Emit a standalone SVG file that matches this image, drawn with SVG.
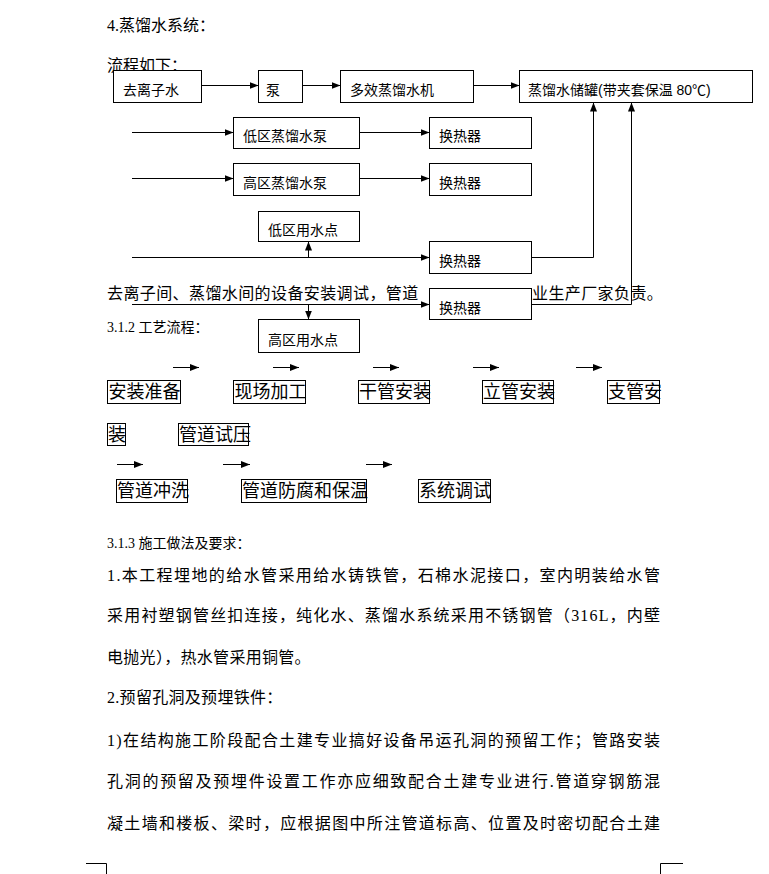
<svg xmlns="http://www.w3.org/2000/svg" width="769" height="874" viewBox="0 0 769 874">
<style>
.body{font-family:'Liberation Serif','Noto Sans CJK SC',serif;font-size:16px;fill:#000}
.sub{font-family:'Liberation Serif','Noto Sans CJK SC',serif;font-size:14px;fill:#000}
.lbl{font-family:'Liberation Sans','Noto Sans CJK SC',sans-serif;font-size:14px;fill:#000}
.pl{font-family:'Liberation Serif','Noto Sans CJK SC',serif;font-size:18px;fill:#000}
.box{fill:#fff;stroke:#000;stroke-width:1}
.pbox{fill:none;stroke:#000;stroke-width:1}
.con{fill:none;stroke:#000;stroke-width:1;marker-end:url(#ah)}
.line{fill:none;stroke:#000;stroke-width:1}
</style>
<defs>
<marker id="ah" markerUnits="userSpaceOnUse" markerWidth="9" markerHeight="7" refX="9" refY="3.5" orient="auto">
<path d="M0,0 L9,3.5 L0,7 z" fill="#000"/>
</marker>
</defs>
<rect width="769" height="874" fill="#fff"/>

<text class="body" x="107" y="31">4.蒸馏水系统：</text>
<text class="body" x="107" y="71">流程如下：</text>
<text class="body" x="107" y="299" letter-spacing="0.4">去离子间、蒸馏水间的设备安装调试，管道</text>
<text class="body" x="532" y="299" letter-spacing="0.4">业生产厂家负责。</text>

<g id="connectors">
<line class="con" x1="201.5" y1="85.5" x2="258.5" y2="85.5"/>
<line class="con" x1="302.5" y1="85.5" x2="340.5" y2="85.5"/>
<line class="con" x1="473.5" y1="85.5" x2="519.5" y2="85.5"/>
<line class="con" x1="132" y1="132.5" x2="233.5" y2="132.5"/>
<line class="con" x1="359.5" y1="132.5" x2="429.5" y2="132.5"/>
<line class="con" x1="132" y1="178.5" x2="233.5" y2="178.5"/>
<line class="con" x1="359.5" y1="178.5" x2="429.5" y2="178.5"/>
<line class="con" x1="132" y1="257.5" x2="429.5" y2="257.5"/>
<line class="con" x1="308.5" y1="257.5" x2="308.5" y2="241.5"/>
<line class="con" x1="132" y1="304.5" x2="429.5" y2="304.5"/>
<line class="con" x1="308.5" y1="304.5" x2="308.5" y2="319.5"/>
<polyline class="con" points="531.5,257.5 593.5,257.5 593.5,102.5"/>
<polyline class="con" points="531.5,304.5 631.5,304.5 631.5,102.5"/>
<line class="con" x1="173" y1="367.5" x2="199" y2="367.5"/>
<line class="con" x1="273" y1="367.5" x2="299" y2="367.5"/>
<line class="con" x1="373" y1="367.5" x2="399" y2="367.5"/>
<line class="con" x1="473" y1="367.5" x2="499" y2="367.5"/>
<line class="con" x1="576" y1="367.5" x2="602" y2="367.5"/>
<line class="con" x1="117" y1="464.5" x2="143" y2="464.5"/>
<line class="con" x1="223" y1="464.5" x2="250" y2="464.5"/>
<line class="con" x1="366" y1="464.5" x2="392" y2="464.5"/>
</g>

<g id="n-deion"><rect class="box" x="113.5" y="70.5" width="88" height="32"/><text class="lbl" x="123" y="95">去离子水</text></g>
<g id="n-pump"><rect class="box" x="258.5" y="70.5" width="44" height="32"/><text class="lbl" x="266" y="95">泵</text></g>
<g id="n-still"><rect class="box" x="340.5" y="70.5" width="133" height="32"/><text class="lbl" x="350" y="95">多效蒸馏水机</text></g>
<g id="n-tank"><rect class="box" x="519.5" y="70.5" width="233" height="32"/><text class="lbl" x="528" y="95">蒸馏水储罐(带夹套保温 80℃)</text></g>
<g id="n-lowpump"><rect class="box" x="233.5" y="117.5" width="126" height="31"/><text class="lbl" x="243" y="141">低区蒸馏水泵</text></g>
<g id="n-hx1"><rect class="box" x="429.5" y="117.5" width="102" height="31"/><text class="lbl" x="439" y="141">换热器</text></g>
<g id="n-highpump"><rect class="box" x="233.5" y="163.5" width="126" height="32"/><text class="lbl" x="243" y="188">高区蒸馏水泵</text></g>
<g id="n-hx2"><rect class="box" x="429.5" y="163.5" width="102" height="32"/><text class="lbl" x="439" y="188">换热器</text></g>
<g id="n-lowuse"><rect class="box" x="258.5" y="211.5" width="101" height="30"/><text class="lbl" x="268" y="235">低区用水点</text></g>
<g id="n-hx3"><rect class="box" x="429.5" y="241.5" width="102" height="32"/><text class="lbl" x="439" y="266">换热器</text></g>
<g id="n-hx4"><rect class="box" x="429.5" y="288.5" width="102" height="31"/><text class="lbl" x="439" y="313">换热器</text></g>
<g id="n-highuse"><rect class="box" x="258.5" y="319.5" width="101" height="33"/><text class="lbl" x="268" y="345">高区用水点</text></g>

<text class="sub" x="107" y="332">3.1.2 工艺流程：</text>

<g id="p1"><rect class="pbox" x="107.5" y="380.5" width="73" height="23"/><text class="pl" x="108.5" y="398">安装准备</text></g>
<g id="p2"><rect class="pbox" x="233.5" y="380.5" width="72" height="23"/><text class="pl" x="234.5" y="398">现场加工</text></g>
<g id="p3"><rect class="pbox" x="358.5" y="380.5" width="71" height="23"/><text class="pl" x="359" y="398">干管安装</text></g>
<g id="p4"><rect class="pbox" x="482.5" y="380.5" width="71" height="23"/><text class="pl" x="483" y="398">立管安装</text></g>
<g id="p5"><rect class="pbox" x="607.5" y="380.5" width="52" height="23"/><text class="pl" x="608" y="398">支管安</text></g>
<g id="p5b"><rect class="pbox" x="107.5" y="423.5" width="18" height="22"/><text class="pl" x="108" y="441">装</text></g>
<g id="p6"><rect class="pbox" x="178.5" y="423.5" width="70" height="22"/><text class="pl" x="179" y="441">管道试压</text></g>
<g id="p7"><rect class="pbox" x="116.5" y="479.5" width="71" height="23"/><text class="pl" x="117" y="497">管道冲洗</text></g>
<g id="p8"><rect class="pbox" x="241.5" y="479.5" width="125" height="23"/><text class="pl" x="242" y="497">管道防腐和保温</text></g>
<g id="p9"><rect class="pbox" x="418.5" y="479.5" width="72" height="23"/><text class="pl" x="419" y="497">系统调试</text></g>

<text class="sub" x="107" y="548">3.1.3 施工做法及要求：</text>
<text class="body" x="107" y="581" textLength="553" lengthAdjust="spacing">1.本工程埋地的给水管采用给水铸铁管，石棉水泥接口，室内明装给水管</text>
<text class="body" x="107" y="621" textLength="553" lengthAdjust="spacing">采用衬塑钢管丝扣连接，纯化水、蒸馏水系统采用不锈钢管（316L，内壁</text>
<text class="body" x="107" y="663" letter-spacing="0.3">电抛光），热水管采用铜管。</text>
<text class="body" x="107" y="703" letter-spacing="0.3">2.预留孔洞及预埋铁件：</text>
<text class="body" x="107" y="746" textLength="553" lengthAdjust="spacing">1)在结构施工阶段配合土建专业搞好设备吊运孔洞的预留工作；管路安装</text>
<text class="body" x="107" y="787" textLength="553" lengthAdjust="spacing">孔洞的预留及预埋件设置工作亦应细致配合土建专业进行.管道穿钢筋混</text>
<text class="body" x="107" y="829" textLength="553" lengthAdjust="spacing">凝土墙和楼板、梁时，应根据图中所注管道标高、位置及时密切配合土建</text>

<path class="line" d="M86,863.5 H106.5 V874" stroke="#999"/>
<path class="line" d="M660.5,874 V863.5 H683" stroke="#999"/>
</svg>
